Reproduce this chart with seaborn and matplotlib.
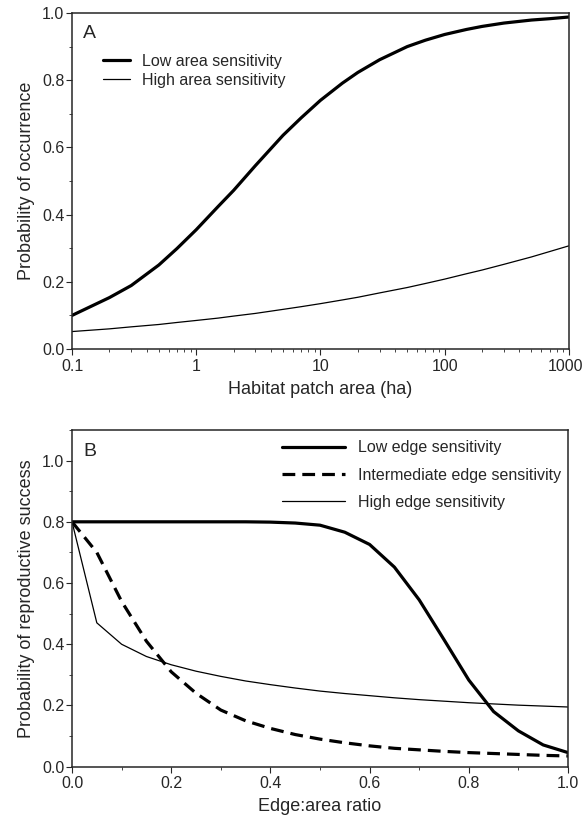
import numpy as np
import pandas as pd
import matplotlib
matplotlib.use("Agg")
import matplotlib.pyplot as plt
import matplotlib.ticker as mticker
import matplotlib.transforms as mtransforms
import seaborn as sns

# Panel A - occurrence vs habitat patch area
area = [0.1, 0.2, 0.3, 0.5, 0.7, 1, 1.5, 2, 3, 5, 7, 10, 15, 20, 30, 50, 70,
        100, 150, 200, 300, 500, 700, 1000]
occ_low = [0.10, 0.153, 0.189, 0.25, 0.299, 0.355, 0.424, 0.472, 0.546, 0.636, 0.688,
           0.74, 0.791, 0.823, 0.861, 0.900, 0.919, 0.936, 0.951, 0.960, 0.970, 0.979,
           0.983, 0.988]
occ_high = [0.052, 0.060, 0.066, 0.073, 0.079, 0.085, 0.092, 0.098, 0.106, 0.118, 0.126,
            0.135, 0.146, 0.154, 0.167, 0.183, 0.195, 0.208, 0.224, 0.235, 0.252, 0.274,
            0.290, 0.307]
area_ticks = ['0.1', '1', '10', '100', '1000']

# Panel B - reproductive success vs edge:area ratio
ratio = [0.0, 0.05, 0.1, 0.15, 0.2, 0.25, 0.3, 0.35, 0.4, 0.45, 0.5,
         0.55, 0.6, 0.65, 0.7, 0.75, 0.8, 0.85, 0.9, 0.95, 1.0]
rep_low = [0.8, 0.8, 0.8, 0.8, 0.8, 0.8, 0.8, 0.8, 0.799, 0.796, 0.789,
           0.766, 0.726, 0.652, 0.545, 0.415, 0.283, 0.18, 0.117, 0.071, 0.046]
rep_mid = [0.8, 0.70, 0.54, 0.41, 0.31, 0.24, 0.185, 0.15, 0.125, 0.105, 0.09,
           0.078, 0.068, 0.06, 0.055, 0.05, 0.046, 0.043, 0.04, 0.037, 0.035]
rep_high = [0.8, 0.47, 0.40, 0.36, 0.333, 0.312, 0.295, 0.28, 0.268, 0.257, 0.247,
            0.239, 0.232, 0.225, 0.219, 0.214, 0.209, 0.205, 0.201, 0.198, 0.195]

sns.set_style("ticks")
plt.rcParams['font.family'] = ['Liberation Sans', 'DejaVu Sans']
plt.rcParams['axes.linewidth'] = 1.1
plt.rcParams['xtick.major.size'] = 4
plt.rcParams['ytick.major.size'] = 4
plt.rcParams['xtick.minor.size'] = 2.5
plt.rcParams['ytick.minor.size'] = 2.5
plt.rcParams['xtick.major.pad'] = 3
plt.rcParams['ytick.major.pad'] = 1.5

fig = plt.figure(figsize=(5.84, 8.22), dpi=100)
axA = fig.add_axes([0.1233, 0.5754, 0.8507, 0.4088])
axB = fig.add_axes([0.1233, 0.0673, 0.8493, 0.4096])

thick = 2.3
thin = 0.9
tick_fs = 11.5
label_fs = 13
leg_fs = 11.5

# --- Panel A ---
sns.lineplot(x=area, y=occ_low, ax=axA, color='black', lw=thick, label='Low area sensitivity')
sns.lineplot(x=area, y=occ_high, ax=axA, color='black', lw=thin, label='High area sensitivity')
axA.set_xscale('log')
axA.set_xlim(0.1, 1000)
axA.set_ylim(0, 1.0)
axA.set_xticks([0.1, 1, 10, 100, 1000])
axA.xaxis.set_major_formatter(mticker.FixedFormatter(area_ticks))
axA.xaxis.set_minor_locator(mticker.LogLocator(base=10, subs=np.arange(2, 10)))
axA.xaxis.set_minor_formatter(mticker.NullFormatter())
axA.set_yticks(np.arange(0, 1.01, 0.2))
axA.yaxis.set_major_formatter(mticker.FormatStrFormatter('%.1f'))
axA.yaxis.set_minor_locator(mticker.MultipleLocator(0.1))
axA.tick_params(labelsize=tick_fs)
axA.set_xlabel('Habitat patch area (ha)', fontsize=label_fs, labelpad=5)
axA.set_ylabel('Probability of occurrence', fontsize=label_fs, labelpad=5)
axA.text(0.022, 0.94, 'A', transform=axA.transAxes, fontsize=14, ha='left', va='center')
axA.legend(loc='upper left', bbox_to_anchor=(0.062, 0.879), frameon=False, fontsize=leg_fs,
           handlelength=1.7, handletextpad=0.73, labelspacing=0.25, borderpad=0, borderaxespad=0)

# last tick label sits against the right edge of the figure
fig.canvas.draw()
last = axA.get_xticklabels()[-1]
last.set_ha('right')
last.set_transform(last.get_transform() + mtransforms.ScaledTranslation(14 / 100, 0, fig.dpi_scale_trans))

# --- Panel B ---
sns.lineplot(x=ratio, y=rep_low, ax=axB, color='black', lw=thick, label='Low edge sensitivity')
sns.lineplot(x=ratio, y=rep_mid, ax=axB, color='black', lw=thick,
             label='Intermediate edge sensitivity')
axB.lines[-1].set_dashes((4, 2.2))
sns.lineplot(x=ratio, y=rep_high, ax=axB, color='black', lw=thin, label='High edge sensitivity')
axB.set_xlim(0, 1.0)
axB.set_ylim(0, 1.1)
axB.set_xticks(np.arange(0, 1.01, 0.2))
axB.xaxis.set_major_formatter(mticker.FormatStrFormatter('%.1f'))
axB.xaxis.set_minor_locator(mticker.MultipleLocator(0.1))
axB.set_yticks(np.arange(0, 1.01, 0.2))
axB.yaxis.set_major_formatter(mticker.FormatStrFormatter('%.1f'))
axB.yaxis.set_minor_locator(mticker.MultipleLocator(0.1))
axB.tick_params(labelsize=tick_fs)
axB.set_xlabel('Edge:area ratio', fontsize=label_fs, labelpad=5)
axB.set_ylabel('Probability of reproductive success', fontsize=label_fs, labelpad=5)
axB.text(0.022, 0.935, 'B', transform=axB.transAxes, fontsize=14, ha='left', va='center')
leg = axB.legend(loc='upper left', bbox_to_anchor=(0.423, 0.969), frameon=False, fontsize=leg_fs,
                 handlelength=3.95, handletextpad=0.8, labelspacing=0.77, borderpad=0,
                 borderaxespad=0)
leg.get_lines()[1].set_dashes((4, 2.2))

fig.savefig('out.png', dpi=100)
